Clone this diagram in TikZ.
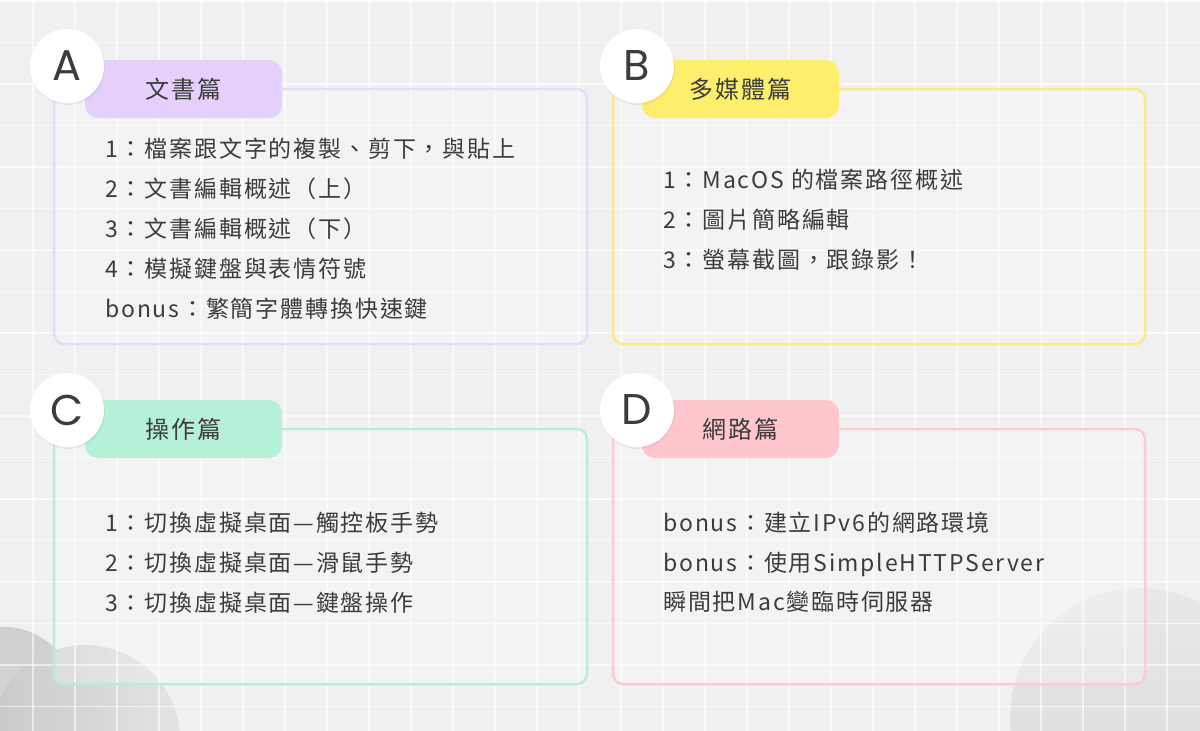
\documentclass[tikz,border=0pt]{standalone}
\usepackage{fontspec}
\setmainfont{Noto Sans CJK TC}
\newfontfamily\itemfont{Noto Sans CJK TC}[LetterSpace=8]
\newfontfamily\tabfont{Noto Sans CJK TC}[LetterSpace=8]
\newfontfamily\letterfont{Poppins}
\usetikzlibrary{positioning}
\usetikzlibrary{shadows}

\definecolor{bggray}{HTML}{F0F0F0}
\definecolor{txtgray}{HTML}{3C3C3C}
\definecolor{lavtab}{HTML}{E5D0FB}
\definecolor{lavline}{HTML}{E8DAFB}
\definecolor{yeltab}{HTML}{FDEE6C}
\definecolor{yelline}{HTML}{FCE98E}
\definecolor{minttab}{HTML}{B6F0D7}
\definecolor{mintline}{HTML}{B9EDD6}
\definecolor{pinktab}{HTML}{FFC6CD}
\definecolor{pinkline}{HTML}{FBCBD0}

\tikzset{
  gridline/.style={white, line width=1.8pt, opacity=0.6},
  panel/.style={rounded corners=10pt, line width=2.5pt, fill=white, fill opacity=0.25},
  tab/.style={rounded corners=13pt, minimum width=197pt, minimum height=58pt, inner sep=0pt,
    font=\tabfont\fontsize{24}{28}\selectfont, text=txtgray},
  badge/.style={circle, fill=white, minimum size=74pt, inner sep=0pt,
    font=\letterfont\fontsize{43}{46}\selectfont, text=txtgray,
    drop shadow={opacity=0.12, shadow xshift=1pt, shadow yshift=-2pt}},
  item/.style={anchor=base west, inner sep=0pt, font=\itemfont\fontsize{23}{26}\selectfont, text=txtgray},
}

\begin{document}
\begin{tikzpicture}[x=1pt, y=-1pt]
    % background
    \fill[bggray] (0,0) rectangle (1200,731);
    \useasboundingbox (0,0) rectangle (1200,731);
    \shade[top color=gray!38, bottom color=gray!28] (5,695) circle (68);
    \shade[left color=gray!42, right color=gray!22] (85,740) circle (95);
    \shade[top color=gray!18, bottom color=gray!30] (1140,718) circle (130);
    \foreach \gx in {33,75,...,1200} \draw[gridline] (\gx,0) -- (\gx,731);
    \foreach \gy in {1,42.5,...,731} \draw[gridline] (0,\gy) -- (1200,\gy);

    % A
    \draw[panel, draw=lavline] (54,89) rectangle (587,344);
    \node[tab, fill=lavtab] (tabA) at (183.5,89) {文書篇};
    \node[badge] (badgeA) at (67,66) {A};
    \node[item] (a1) at (105,157) {1：檔案跟文字的複製、剪下，與貼上};
    \node[item] (a2) at (105,197) {2：文書編輯概述（上）};
    \node[item] (a3) at (105,237) {3：文書編輯概述（下）};
    \node[item] (a4) at (105,277) {4：模擬鍵盤與表情符號};
    \node[item] (a5) at (105,317) {bonus：繁簡字體轉換快速鍵};

    % B
    \draw[panel, draw=yelline] (613,89) rectangle (1145,344);
    \node[tab, fill=yeltab] (tabB) at (740.5,89) {多媒體篇};
    \node[badge] (badgeB) at (637,66) {B};
    \node[item] (b1) at (663,188) {1：MacOS 的檔案路徑概述};
    \node[item] (b2) at (663,228) {2：圖片簡略編輯};
    \node[item] (b3) at (663,268) {3：螢幕截圖，跟錄影！};

    % C
    \draw[panel, draw=mintline] (54,429) rectangle (587,684);
    \node[tab, fill=minttab] (tabC) at (183.5,429) {操作篇};
    \node[badge] (badgeC) at (67,410) {C};
    \node[item] (c1) at (105,531) {1：切換虛擬桌面—觸控板手勢};
    \node[item] (c2) at (105,571) {2：切換虛擬桌面—滑鼠手勢};
    \node[item] (c3) at (105,611) {3：切換虛擬桌面—鍵盤操作};

    % D
    \draw[panel, draw=pinkline] (613,429) rectangle (1145,684);
    \node[tab, fill=pinktab] (tabD) at (740.5,429) {網路篇};
    \node[badge] (badgeD) at (637,410) {D};
    \node[item] (d1) at (663,531) {bonus：建立IPv6的網路環境};
    \node[item] (d2) at (663,571) {bonus：使用SimpleHTTPServer};
    \node[item] (d3) at (663,610) {瞬間把Mac變臨時伺服器};
\end{tikzpicture}
\end{document}
